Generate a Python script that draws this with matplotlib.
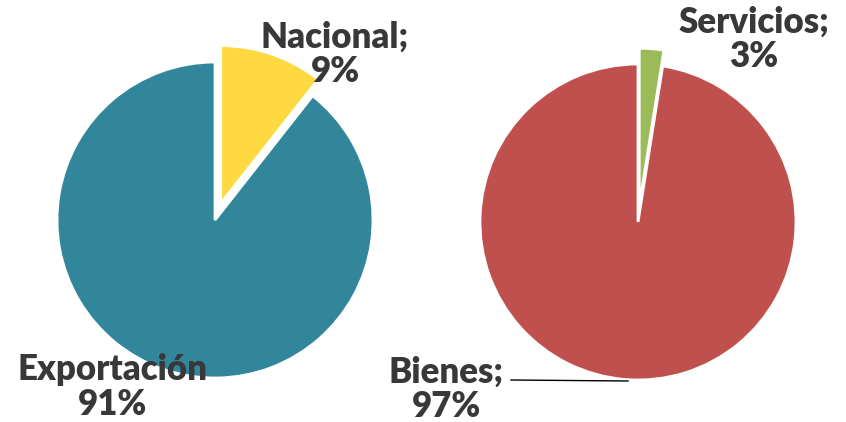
import matplotlib.pyplot as plt
from matplotlib.lines import Line2D

# ========== 数据 ==========
left_labels = ['Nacional', 'Exportación']
left_values = [10.6, 89.4]          # slice sizes as drawn
left_pct = ['9%', '91%']            # percentages as printed
right_labels = ['Servicios', 'Bienes']
right_values = [2.5, 97.5]
right_pct = ['3%', '97%']

W, H = 846, 422
plt.rcParams['font.family'] = ['Lato', 'DejaVu Sans']

fig = plt.figure(figsize=(W / 100, H / 100), dpi=100)


def px_axes(cx, cy, r):
    return fig.add_axes([(cx - r) / W, (H - cy - r) / H, 2 * r / W, 2 * r / H])


def draw_pie(ax, values, colors, explode):
    ax.pie(values, colors=colors, startangle=90, counterclock=False,
           explode=explode, radius=1,
           wedgeprops=dict(edgecolor='white', linewidth=2))
    ax.set_xlim(-1, 1)
    ax.set_ylim(-1, 1)
    ax.set_aspect('equal')
    ax.axis('off')
    for p in ax.patches:
        p.set_clip_on(False)


ax1 = px_axes(215, 220, 158)
draw_pie(ax1, left_values, ['#FFD940', '#31869B'], [0.11, 0])

ax2 = px_axes(638, 222, 158)
draw_pie(ax2, right_values, ['#9BBB59', '#C0504D'], [0.1, 0])

txt = dict(fontsize=25, fontweight='heavy', color='#383838',
           ha='center', va='center', linespacing=1.05)


def ftext(x, y, s):
    fig.text(x / W, 1 - y / H, s, **txt)


ftext(335, 54, f'{left_labels[0]};\n{left_pct[0]}')
ftext(112, 387, f'{left_labels[1]}\n{left_pct[1]}')
ftext(754, 39, f'{right_labels[0]};\n{right_pct[0]}')
ftext(446, 389, f'{right_labels[1]};\n{right_pct[1]}')

fig.add_artist(Line2D([511 / W, 628 / W], [1 - 380 / H, 1 - 381 / H],
                      color='black', linewidth=1))

fig.savefig('out.png', dpi=100)
